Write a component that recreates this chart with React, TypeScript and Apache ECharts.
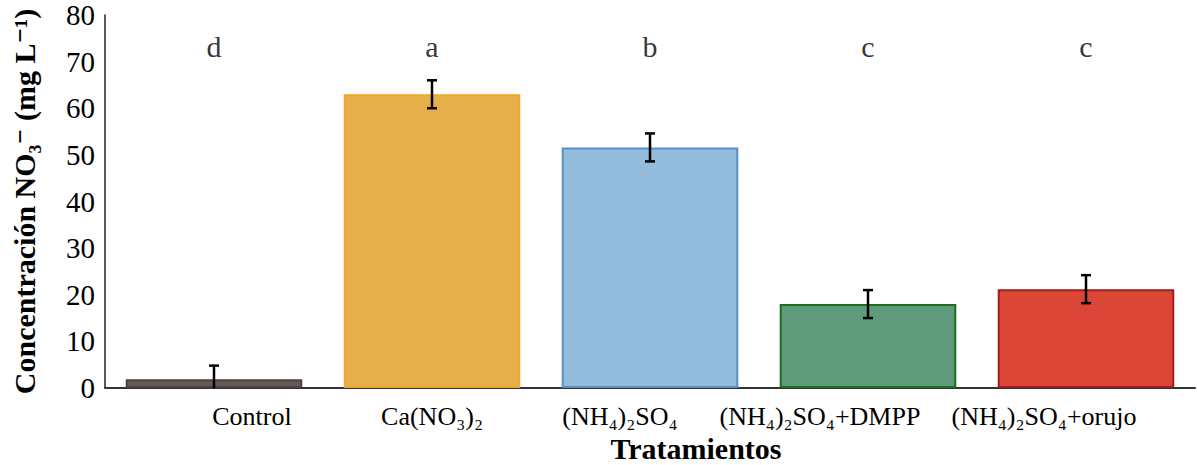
import React, { useEffect, useRef } from "react";
import * as echarts from "echarts";

const categories = ["Control", "Ca(NO₃)₂", "(NH₄)₂SO₄", "(NH₄)₂SO₄+DMPP", "(NH₄)₂SO₄+orujo"];
const means = [1.9, 63.0, 51.6, 18.0, 21.2];
const errors = [2.9, 3.0, 3.0, 3.0, 3.0];
const letters = ["d", "a", "b", "c", "c"];
const letterLevel = 73.2;
const yMin = 0;
const yMax = 80;
const yStep = 10;

const fills = ["#635a55", "#e6af4c", "#93bbdc", "#5f9a7c", "#dc4637"];
const borders = ["#4a4340", "#f2a52a", "#5a8ec0", "#1d6e1d", "#a01d1d"];
const labelShift = [38, 0, -30, -48, -42];

const FONT = "Times New Roman, Liberation Serif, DejaVu Serif, serif";

export default function App() {
  const ref = useRef<HTMLDivElement>(null);
  useEffect(() => {
    document.body.style.margin = "0";
    if (!ref.current) return;
    const chart = echarts.init(ref.current, undefined, { renderer: "svg" });
    const rich: Record<string, any> = {};
    labelShift.forEach((s, i) => {
      rich["s" + i] = {
        fontFamily: FONT,
        fontSize: 26,
        color: "#000",
        padding: s >= 0 ? [0, 0, 0, 2 * s] : [0, -2 * s, 0, 0],
      };
    });
    chart.setOption({
      animation: false,
      textStyle: { fontFamily: FONT },
      grid: { left: 105, right: 2, top: 15, bottom: 77, containLabel: false, outerBoundsMode: "none" },
      xAxis: {
        type: "category",
        data: categories,
        axisLine: { show: true, lineStyle: { color: "#333", width: 2 } },
        axisTick: { show: false },
        axisLabel: {
          margin: 15,
          interval: 0,
          fontFamily: FONT,
          fontSize: 26,
          formatter: (v: string, i: number) => `{s${i}|${v}}`,
          rich,
        },
        name: "Tratamientos",
        nameLocation: "middle",
        nameGap: 42,
        nameTextStyle: {
          fontFamily: FONT,
          fontSize: 30,
          fontWeight: "bold",
          color: "#000",
          padding: [0, 0, 0, 92],
        },
      },
      yAxis: {
        type: "value",
        min: yMin,
        max: yMax,
        interval: yStep,
        splitLine: { show: false },
        axisLine: { show: true, lineStyle: { color: "#222", width: 1.5 } },
        axisTick: { show: false },
        axisLabel: { fontFamily: FONT, fontSize: 29, color: "#000", margin: 10 },
        name: "Concentración NO₃⁻ (mg L⁻¹)",
        nameLocation: "middle",
        nameGap: 66,
        nameTextStyle: {
          fontFamily: FONT,
          fontSize: 30,
          fontWeight: "bold",
          color: "#000",
        },
      },
      series: [
        {
          type: "bar",
          barCategoryGap: "19%",
          data: means.map((v, i) => ({
            value: v,
            itemStyle: { color: fills[i], borderColor: borders[i], borderWidth: 2 },
          })),
        },
        {
          type: "custom",
          clip: true,
          data: means.map((m, i) => [i, m - errors[i], m + errors[i]]),
          renderItem: (params: any, api: any) => {
            const x = api.coord([api.value(0), 0])[0];
            const lo = api.coord([api.value(0), api.value(1)])[1];
            const hi = api.coord([api.value(0), api.value(2)])[1];
            const hw = 5;
            const st = { stroke: "#000", lineWidth: 2.5 };
            return {
              type: "group",
              children: [
                { type: "line", shape: { x1: x, y1: lo, x2: x, y2: hi }, style: st },
                { type: "line", shape: { x1: x - hw, y1: hi, x2: x + hw, y2: hi }, style: st },
                { type: "line", shape: { x1: x - hw, y1: lo, x2: x + hw, y2: lo }, style: st },
              ],
            };
          },
          z: 5,
        },
        {
          type: "scatter",
          symbolSize: 0,
          data: letters.map((l, i) => ({ value: [i, letterLevel], name: l })),
          label: {
            show: true,
            position: "inside",
            formatter: (p: any) => p.name,
            fontFamily: FONT,
            fontSize: 30,
            color: "#000",
          },
        },
      ],
    });
    return () => chart.dispose();
  }, []);
  return <div ref={ref} style={{ width: 1197, height: 465 }} />;
}
